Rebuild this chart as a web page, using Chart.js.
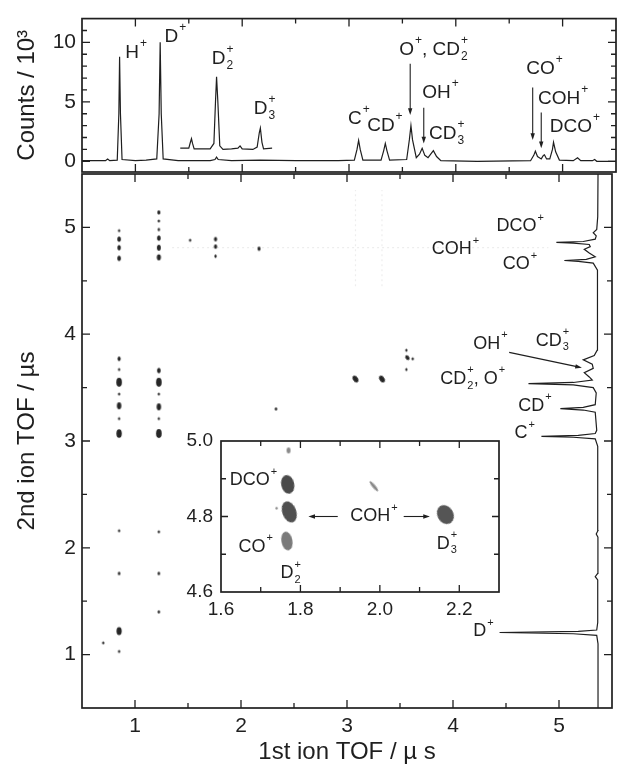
<!DOCTYPE html>
<html>
<head>
<meta charset="utf-8">
<script src="https://cdn.jsdelivr.net/npm/chart.js@4.4.1/dist/chart.umd.min.js"></script>
<style>
  html, body { margin: 0; padding: 0; background: #fff; }
  #wrap { position: relative; width: 618px; height: 768px; background: #fff; overflow: hidden; }
  #wrap canvas { position: absolute; left: 0; top: 0; }
</style>
</head>
<body>
<div id="wrap">
  <canvas id="mapChart" width="618" height="768"></canvas>
  <canvas id="specChart" width="618" height="768"></canvas>
  <canvas id="insetChart" width="618" height="768"></canvas>
</div>
<script>
// ---- data ----

// 1st ion TOF spectrum (top panel), counts / 10^3
const specTof    = [0.50, 0.72, 0.74, 0.76, 0.83, 0.845, 0.852, 0.86, 0.875, 1.00, 1.10, 1.20, 1.222, 1.232, 1.242, 1.26, 1.40,
                    1.70, 1.745, 1.76, 1.775, 1.90, 2.17, 2.50, 2.90, 3.05, 3.075, 3.09, 3.105, 3.13, 3.30, 3.325, 3.34, 3.355, 3.38,
                    3.54, 3.565, 3.58, 3.595, 3.63, 3.66, 3.685, 3.71, 3.74, 3.765, 3.79, 3.82, 3.86, 4.20, 4.70, 4.73, 4.745, 4.765,
                    4.80, 4.82, 4.83, 4.85, 4.88, 4.905, 4.915, 4.935, 4.97, 5.10, 5.14, 5.17, 5.28, 5.30, 5.32, 5.50];
const specCounts = [0.05, 0.05, 0.20, 0.05, 0.10, 4.0, 8.8, 4.0, 0.15, 0.05, 0.10, 0.20, 4.0, 10.0, 4.0, 0.20, 0.05,
                    0.05, 0.15, 0.35, 0.15, 0.05, 0.10, 0.05, 0.05, 0.10, 1.0, 1.75, 1.0, 0.10, 0.10, 0.9, 1.5, 0.9, 0.10,
                    0.15, 1.8, 3.0, 1.8, 0.30, 0.6, 1.1, 0.5, 0.30, 0.6, 0.9, 0.4, 0.05, 0.0, 0.05, 0.5, 0.85, 0.4,
                    0.20, 0.5, 0.55, 0.20, 0.20, 1.0, 1.6, 0.8, 0.10, 0.05, 0.30, 0.05, 0.05, 0.15, 0.0, 0.0];

// magnified part of the same spectrum, drawn above the baseline
const zoomTof    = [1.42, 1.50, 1.515, 1.525, 1.535, 1.55, 1.70, 1.735, 1.75, 1.76, 1.772, 1.79, 1.82, 1.90, 1.96, 1.98, 2.00,
                    2.10, 2.14, 2.16, 2.17, 2.185, 2.20, 2.28];
const zoomCounts = [1.10, 1.10, 1.6, 1.9, 1.5, 1.05, 1.05, 1.5, 5.0, 7.1, 5.0, 1.3, 1.0, 1.05, 1.10, 1.3, 1.05,
                    1.0, 1.2, 2.4, 2.8, 1.6, 1.05, 1.10];

// 2nd ion TOF spectrum along the right edge of the map (arb. units)
const sideTof    = [0.50, 1.10, 1.18, 1.195, 1.207, 1.218, 1.23, 1.30, 1.70, 1.73, 1.76, 2.10, 2.13, 2.16, 2.95, 3.02, 3.035,
                    3.043, 3.052, 3.07, 3.10, 3.27, 3.29, 3.304, 3.315, 3.34, 3.45, 3.50, 3.525, 3.537, 3.548, 3.57, 3.60,
                    3.64, 3.68, 3.72, 3.76, 3.80, 3.85, 4.00, 4.60, 4.665, 4.682, 4.69, 4.70, 4.725, 4.76, 4.795, 4.82,
                    4.84, 4.852, 4.86, 4.868, 4.89, 4.92, 4.95, 4.98, 5.10, 5.50];
const sideCounts = [0.02, 0.02, 0.15, 2.5, 9.9, 2.0, 0.15, 0.05, 0.05, 0.3, 0.05, 0.03, 0.2, 0.03, 0.05, 0.3, 2.5,
                    5.7, 2.0, 0.3, 0.15, 0.3, 1.5, 3.8, 1.5, 0.3, 0.2, 0.5, 2.5, 7.0, 2.5, 0.6, 0.9,
                    1.4, 0.5, 0.6, 1.5, 0.4, 0.1, 0.05, 0.1, 0.5, 2.0, 3.4, 1.2, 0.3, 0.9, 1.4, 0.8,
                    0.9, 2.5, 4.2, 1.5, 0.3, 0.2, 0.5, 0.15, 0.05, 0.02];

// coincidence islands (1st ion TOF, 2nd ion TOF, relative intensity)
const spotX   = [0.85, 0.85, 0.85, 0.85, 0.85, 0.85, 0.85, 0.85, 0.85, 0.85, 0.85, 0.85, 0.85, 0.85, 0.85, 0.70,
                 1.225, 1.225, 1.225, 1.225, 1.225, 1.225, 1.225, 1.225, 1.225, 1.225, 1.225, 1.225, 1.225, 1.225, 1.225,
                 1.52, 1.76, 1.76, 1.76, 2.17, 2.33, 3.08, 3.33, 3.57, 3.62, 3.56, 3.56];
const spotY   = [4.97, 4.89, 4.81, 4.71, 3.77, 3.67, 3.55, 3.44, 3.33, 3.21, 3.07, 2.16, 1.76, 1.22, 1.03, 1.11,
                 5.14, 5.06, 4.98, 4.90, 4.81, 4.72, 3.66, 3.55, 3.44, 3.32, 3.21, 3.07, 2.15, 1.76, 1.40,
                 4.88, 4.89, 4.82, 4.73, 4.80, 3.30, 3.58, 3.58, 3.78, 3.77, 3.85, 3.67];
const spotInt = [0.1, 0.5, 0.45, 0.5, 0.35, 0.1, 1.0, 0.1, 0.7, 0.1, 0.95, 0.1, 0.2, 0.9, 0.12, 0.1,
                 0.3, 0.12, 0.15, 0.5, 0.55, 0.6, 0.5, 1.0, 0.1, 0.7, 0.1, 1.0, 0.12, 0.2, 0.15,
                 0.12, 0.35, 0.35, 0.15, 0.3, 0.15, 0.8, 0.8, 0.5, 0.12, 0.1, 0.1];

// inset islands (zoom around 1st TOF 1.6-2.3, 2nd TOF 4.6-5.0)
const insetX = [1.768, 1.772, 1.766, 2.165, 1.985, 1.770, 1.740];
const insetY = [4.885, 4.812, 4.735, 4.805, 4.880, 4.975, 4.822];

// axis ranges
const mapRange    = [0.5, 5.5];
const countRange  = [-0.9, 12];
const insetXRange = [1.6, 2.3];
const insetYRange = [4.6, 5.0];

// ---- styling ----
const INK = '#1f1f1f';
const FONT = '"Liberation Sans", Arial, Helvetica, sans-serif';
const sideBase = 5.37, sideUnit = 0.094;           // where the right-hand spectrum sits
const spotTilt = spotX.map((x, i) => (x > 3 && spotInt[i] > 0.4) ? -35 : 0);
const insetW = [6.5, 7, 5.5, 8, 1.6, 2, 1.2];
const insetH = [9.5, 11, 9.5, 10, 6.5, 3, 1.2];
const insetTilt = [-12, -20, -10, -30, -40, 0, 0];
const insetCol = ['#4a4a4a', '#505050', '#7a7a7a', '#555', '#8a8a8a', '#8a8a8a', '#888'];

const imgs = {};
function ellipse(rx, ry, color) {
  const key = rx + '_' + ry + '_' + color;
  if (imgs[key]) return imgs[key];
  const c = document.createElement('canvas');
  c.width = Math.ceil(rx * 2 + 2); c.height = Math.ceil(ry * 2 + 2);
  const g = c.getContext('2d');
  g.fillStyle = color;
  g.beginPath(); g.ellipse(c.width / 2, c.height / 2, rx, ry, 0, 0, Math.PI * 2); g.fill();
  return (imgs[key] = c);
}
const spotImg = spotInt.map(v => ellipse(0.9 + 1.9 * v, 1.2 + 3.2 * v, '#262626'));
const insetImg = insetW.map((w, i) => ellipse(w, insetH[i], insetCol[i]));

// text with _sub and ^sup (stacked when both)
function rich(ctx, str, x, y, size, align) {
  const parts = [];
  let i = 0;
  while (i < str.length) {
    if (str[i] === '_' || str[i] === '^') {
      let sub = '', sup = '';
      while (i < str.length && (str[i] === '_' || str[i] === '^')) {
        if (str[i] === '_') sub = str[i + 1]; else sup = str[i + 1];
        i += 2;
      }
      parts.push({ sub, sup });
    } else { parts.push({ t: str[i] }); i++; }
  }
  const big = size + 'px ' + FONT, small = Math.round(size * 0.62) + 'px ' + FONT;
  let w = 0;
  parts.forEach(p => {
    if (p.t !== undefined) { ctx.font = big; p.w = ctx.measureText(p.t).width; }
    else { ctx.font = small; p.w = Math.max(ctx.measureText(p.sub).width, ctx.measureText(p.sup).width) + 1; }
    w += p.w;
  });
  let cx = align === 'right' ? x - w : align === 'center' ? x - w / 2 : x;
  ctx.textBaseline = 'middle'; ctx.textAlign = 'left'; ctx.fillStyle = INK;
  parts.forEach(p => {
    if (p.t !== undefined) { ctx.font = big; ctx.fillText(p.t, cx, y); }
    else {
      ctx.font = small;
      if (p.sup) ctx.fillText(p.sup, cx + 1, y - size * 0.48);
      if (p.sub) ctx.fillText(p.sub, cx + 1, y + size * 0.36);
    }
    cx += p.w;
  });
}

function arrow(ctx, x1, y1, x2, y2) {
  const a = Math.atan2(y2 - y1, x2 - x1), h = 7;
  ctx.beginPath(); ctx.moveTo(x1, y1); ctx.lineTo(x2 - Math.cos(a) * 4, y2 - Math.sin(a) * 4); ctx.stroke();
  ctx.beginPath();
  ctx.moveTo(x2, y2);
  ctx.lineTo(x2 - h * Math.cos(a - 0.32), y2 - h * Math.sin(a - 0.32));
  ctx.lineTo(x2 - h * Math.cos(a + 0.32), y2 - h * Math.sin(a + 0.32));
  ctx.closePath(); ctx.fill();
}

// frame + inward ticks on all four sides
function frameTicks(id, majX, majY, lenMaj, lenMin) {
  return {
    id,
    afterDatasetsDraw(chart) {
      const { ctx, chartArea: a, scales: { x, y } } = chart;
      ctx.save();
      ctx.strokeStyle = INK; ctx.lineWidth = 1.7;
      ctx.strokeRect(a.left, a.top, a.right - a.left, a.bottom - a.top);
      ctx.lineWidth = 1.3;
      ctx.beginPath();
      x.ticks.forEach(t => {
        const p = x.getPixelForValue(t.value);
        if (p <= a.left + 1 || p >= a.right - 1) return;
        const L = majX(t.value) ? lenMaj : lenMin;
        ctx.moveTo(p, a.top); ctx.lineTo(p, a.top + L);
        ctx.moveTo(p, a.bottom); ctx.lineTo(p, a.bottom - L);
      });
      y.ticks.forEach(t => {
        const p = y.getPixelForValue(t.value);
        if (p <= a.top + 1 || p >= a.bottom - 1) return;
        const L = majY(t.value) ? lenMaj : lenMin;
        ctx.moveTo(a.left, p); ctx.lineTo(a.left + L, p);
        ctx.moveTo(a.right, p); ctx.lineTo(a.right - L, p);
      });
      ctx.stroke();
      ctx.restore();
    }
  };
}

function notes(id, size, labels, arrows) {
  return {
    id,
    afterDraw(chart) {
      const { ctx, scales: { x, y } } = chart;
      ctx.save();
      ctx.strokeStyle = INK; ctx.fillStyle = INK; ctx.lineWidth = 1.1;
      arrows.forEach(r => arrow(ctx, x.getPixelForValue(r[0]), y.getPixelForValue(r[1]),
                                     x.getPixelForValue(r[2]), y.getPixelForValue(r[3])));
      labels.forEach(l => rich(ctx, l[2], x.getPixelForValue(l[0]), y.getPixelForValue(l[1]), size, l[3] || 'left'));
      ctx.restore();
    }
  };
}

const isInt = v => Math.abs(v - Math.round(v)) < 1e-6;
const tickFont = { family: FONT, size: 21 };
const titleFont = { family: FONT, size: 24 };
const noGrid = { display: false, drawTicks: false };

function baseOpts(pad) {
  return {
    responsive: false, animation: false, events: [],
    layout: { padding: pad },
    plugins: { legend: { display: false }, tooltip: { enabled: false } }
  };
}

// ---- coincidence map ----
const ghost = { borderColor: 'rgba(0,0,0,0.07)', borderWidth: 1.2, borderDash: [2, 3], pointRadius: 0, showLine: true };
new Chart(document.getElementById('mapChart'), {
  type: 'scatter',
  data: {
    datasets: [
      Object.assign({ data: [{ x: 3.08, y: 4.45 }, { x: 3.08, y: 5.35 }] }, ghost),
      Object.assign({ data: [{ x: 3.33, y: 4.45 }, { x: 3.33, y: 5.35 }] }, ghost),
      Object.assign({ data: [{ x: 1.35, y: 4.81 }, { x: 4.9, y: 4.81 }] }, ghost),
      {
        data: spotX.map((x, i) => ({ x, y: spotY[i] })),
        pointStyle: c => spotImg[c.dataIndex],
        rotation: c => spotTilt[c.dataIndex],
        pointRadius: 3
      },
      {
        data: sideTof.map((t, i) => ({ x: sideBase - sideCounts[i] * sideUnit, y: t })),
        showLine: true, borderColor: INK, borderWidth: 1.2, pointRadius: 0
      }
    ]
  },
  options: Object.assign(baseOpts({ top: 174, right: 2, left: 0, bottom: 0 }), {
    scales: {
      x: {
        type: 'linear', min: mapRange[0], max: mapRange[1],
        ticks: { stepSize: 0.5, callback: v => isInt(v) ? String(Math.round(v)) : '', font: tickFont, color: INK, padding: 6, maxRotation: 0, autoSkip: false },
        grid: noGrid, border: { display: false },
        title: { display: true, text: '1st ion TOF / µ s', font: titleFont, color: INK, padding: { top: 0, bottom: 1 } },
        afterFit: s => { s.height = 60; }
      },
      y: {
        type: 'linear', min: mapRange[0], max: mapRange[1],
        ticks: { stepSize: 0.5, callback: v => isInt(v) ? String(Math.round(v)) : '', font: tickFont, color: INK, padding: 6, autoSkip: false },
        grid: noGrid, border: { display: false },
        title: { display: true, text: '2nd ion TOF / µs', font: titleFont, color: INK, padding: { top: 13, bottom: 0 } },
        afterFit: s => { s.width = 82; }
      }
    }
  }),
  plugins: [
    frameTicks('mapFrame', isInt, isInt, 8, 5),
    notes('mapNotes', 18, [
      [4.41, 5.01, 'DCO^+'], [3.80, 4.795, 'COH^+'], [4.47, 4.655, 'CO^+'],
      [4.19, 3.91, 'OH^+'], [4.78, 3.94, 'CD_3^+'], [3.88, 3.58, 'CD_2^+, O^+'],
      [4.615, 3.33, 'CD^+'], [4.58, 3.07, 'C^+'], [4.19, 1.216, 'D^+']
    ], [
      [4.53, 3.83, 5.216, 3.686]
    ])
  ]
});

// ---- 1st ion TOF spectrum ----
new Chart(document.getElementById('specChart'), {
  type: 'scatter',
  data: {
    datasets: [
      { data: specTof.map((t, i) => ({ x: t, y: specCounts[i] })), showLine: true, borderColor: INK, borderWidth: 1.2, pointRadius: 0 },
      { data: zoomTof.map((t, i) => ({ x: t, y: zoomCounts[i] })), showLine: true, borderColor: INK, borderWidth: 1.2, pointRadius: 0 }
    ]
  },
  options: Object.assign(baseOpts({ top: 18, right: 2, left: 0, bottom: 596 }), {
    scales: {
      x: {
        type: 'linear', min: mapRange[0], max: mapRange[1],
        ticks: { display: false, stepSize: 0.5, autoSkip: false },
        grid: noGrid, border: { display: false },
        afterFit: s => { s.height = 0; }
      },
      y: {
        type: 'linear', min: countRange[0], max: countRange[1],
        ticks: { stepSize: 1, includeBounds: false, callback: v => (isInt(v) && Math.round(v) % 5 === 0) ? String(Math.round(v)) : '', font: tickFont, color: INK, padding: 6, autoSkip: false },
        grid: noGrid, border: { display: false },
        title: { display: true, text: 'Counts / 10³', font: titleFont, color: INK, padding: { top: 13, bottom: 0 } },
        afterFit: s => { s.width = 82; }
      }
    }
  }),
  plugins: [
    frameTicks('specFrame', isInt, v => isInt(v) && Math.round(v) % 5 === 0, 8, 5),
    notes('specNotes', 19, [
      [0.906, 9.1, 'H^+'], [1.272, 10.5, 'D^+'], [1.714, 8.6, 'D_2^+'], [2.108, 4.4, 'D_3^+'],
      [2.99, 3.6, 'C^+'], [3.17, 3.0, 'CD^+'], [3.47, 9.4, 'O^+, CD_2^+'], [3.685, 5.75, 'OH^+'],
      [3.75, 2.3, 'CD_3^+'], [4.66, 7.75, 'CO^+'], [4.77, 5.25, 'COH^+'], [4.88, 2.9, 'DCO^+']
    ], [
      [3.573, 8.2, 3.573, 3.9], [3.70, 4.5, 3.70, 1.5], [4.72, 6.2, 4.72, 1.8], [4.80, 4.1, 4.80, 1.1]
    ])
  ]
});

// ---- inset ----
const evenTenth = v => Math.round(v * 10) % 2 === 0;
new Chart(document.getElementById('insetChart'), {
  type: 'scatter',
  data: {
    datasets: [{
      data: insetX.map((x, i) => ({ x, y: insetY[i] })),
      pointStyle: c => insetImg[c.dataIndex],
      rotation: c => insetTilt[c.dataIndex],
      pointRadius: 5
    }]
  },
  options: Object.assign(baseOpts({ top: 441, right: 119, left: 150, bottom: 136 }), {
    scales: {
      x: {
        type: 'linear', min: insetXRange[0], max: insetXRange[1],
        ticks: { stepSize: 0.1, callback: v => evenTenth(v) ? v.toFixed(1) : '', font: { family: FONT, size: 19 }, color: INK, padding: 6, maxRotation: 0, autoSkip: false },
        grid: noGrid, border: { display: false },
        afterFit: s => { s.height = 40; }
      },
      y: {
        type: 'linear', min: insetYRange[0], max: insetYRange[1],
        ticks: { stepSize: 0.1, callback: v => evenTenth(v) ? v.toFixed(1) : '', font: { family: FONT, size: 19 }, color: INK, padding: 8, autoSkip: false },
        grid: noGrid, border: { display: false },
        afterFit: s => { s.width = 71; }
      }
    }
  }),
  plugins: [
    {
      id: 'insetBg',
      beforeDatasetsDraw(chart) {
        const { ctx, chartArea: a } = chart;
        ctx.save(); ctx.fillStyle = '#fff';
        ctx.fillRect(a.left, a.top, a.right - a.left, a.bottom - a.top);
        ctx.restore();
      }
    },
    frameTicks('insetFrame', evenTenth, evenTenth, 7, 5),
    notes('insetNotes', 18, [
      [1.622, 4.896, 'DCO^+'], [1.644, 4.72, 'CO^+'], [1.75, 4.65, 'D_2^+'],
      [1.985, 4.80, 'COH^+', 'center'], [2.143, 4.728, 'D_3^+']
    ], [
      [1.894, 4.80, 1.82, 4.80], [2.06, 4.80, 2.126, 4.80]
    ])
  ]
});
</script>
</body>
</html>
